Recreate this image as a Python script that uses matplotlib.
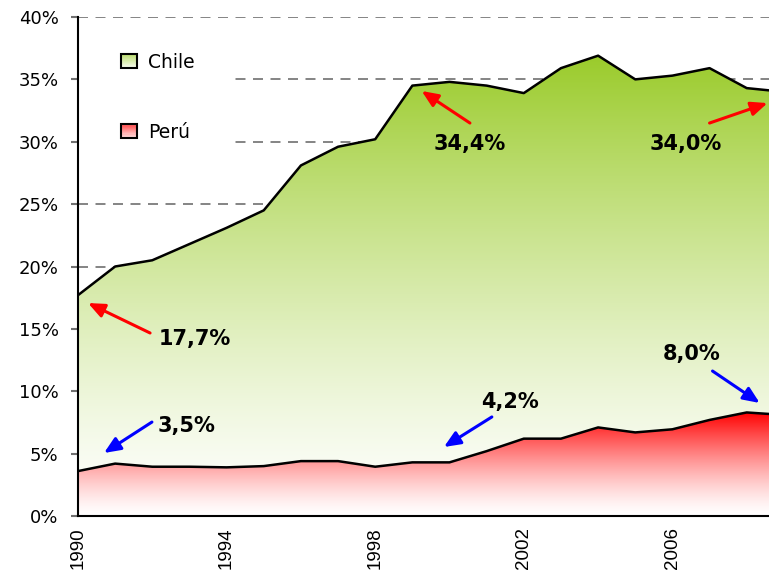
import numpy as np
import matplotlib.pyplot as plt
from matplotlib.patches import Rectangle, Patch

# share of exports (%)
years = list(range(1990, 2010))
chile = [17.7, 20.0, 20.5, 21.8, 23.1, 24.5, 28.1, 29.6, 30.2, 34.5,
         34.8, 34.5, 33.9, 35.9, 36.9, 35.0, 35.3, 35.9, 34.3, 34.0]
peru = [3.6, 4.2, 3.95, 3.95, 3.9, 4.0, 4.4, 4.4, 3.95, 4.3,
        4.3, 5.2, 6.2, 6.2, 7.1, 6.7, 6.95, 7.7, 8.3, 8.1]

xticks = [1990, 1994, 1998, 2002, 2006]
yticks = [0, 5, 10, 15, 20, 25, 30, 35, 40]

GREEN = np.array([154, 203, 42]) / 255
RED = np.array([255, 0, 0]) / 255


def blend(top, frac):
    frac = np.clip(frac, 0, 1)[..., None]
    return (1 - frac) * np.ones(3) + frac * top


def gradient_area(ax, x, y, top, ymax, gamma, z):
    poly = ax.fill_between(x, 0, y, facecolor='none', edgecolor='none')
    yy = np.linspace(0, ymax, 300)
    img = blend(top, (yy / ymax) ** gamma)[:, None, :]
    im = ax.imshow(img, origin='lower', aspect='auto', zorder=z,
                   extent=[x[0], x[-1], 0, ymax], interpolation='bilinear')
    im.set_clip_path(poly.get_paths()[0], ax.transData)
    ax.plot(x, y, color='black', lw=1.8, zorder=z + 0.5)


class GradHandler:
    def __init__(self, top):
        self.top = top

    def legend_artist(self, legend, orig_handle, fontsize, handlebox):
        x0, y0 = handlebox.xdescent, handlebox.ydescent
        w, h = handlebox.width, handlebox.height
        n = 12
        for i in range(n):
            c = blend(self.top, np.array(0.1 + 0.6 * (i + 0.5) / n))
            handlebox.add_artist(Rectangle((x0, y0 + h * i / n), w, h / n + 0.2,
                                           facecolor=c, edgecolor='none',
                                           transform=handlebox.get_transform()))
        border = Rectangle((x0, y0), w, h, facecolor='none', edgecolor='black',
                           lw=1.5, transform=handlebox.get_transform())
        handlebox.add_artist(border)
        return border


fig = plt.figure(figsize=(7.69, 5.71), dpi=100)
ax = fig.add_axes([78 / 769, 55 / 571, 691 / 769, 499 / 571])

gradient_area(ax, years, chile, GREEN, 37.0, 1.3, 1)
gradient_area(ax, years, peru, RED, 8.3, 1.4, 3)

ax.set_xlim(1990, 2008.6)
ax.set_ylim(0, 40)

ax.set_axisbelow(True)
ax.yaxis.grid(True, color='#707070', lw=1.2, linestyle=(0, (6, 4.5)))
ax.add_patch(Rectangle((0, 0.69), 0.227, 0.285, transform=ax.transAxes,
                       facecolor='white', edgecolor='none', zorder=0.8))

ax.set_yticks(yticks)
ax.set_yticklabels([f'{v}%' for v in yticks], fontsize=13)
ax.set_xticks(xticks)
ax.set_xticklabels([str(v) for v in xticks], rotation=90, fontsize=13.5,
                   va='top', family='Liberation Sans')
ax.tick_params(axis='y', length=5, width=1.5, color='#707070', pad=9)
ax.tick_params(axis='x', length=0, pad=8)
for s in ['top', 'right']:
    ax.spines[s].set_visible(False)
for s in ['left', 'bottom']:
    ax.spines[s].set_linewidth(1.5)
    ax.spines[s].set_zorder(6)

h_chile = Patch(label='Chile')
h_peru = Patch(label='Perú')
ax.legend(handles=[h_chile, h_peru], loc='upper left', bbox_to_anchor=(0.038, 0.962),
          frameon=False, fontsize=13.5, handlelength=0.85, handleheight=0.75,
          handletextpad=0.6, labelspacing=2.75,
          handler_map={h_chile: GradHandler(GREEN), h_peru: GradHandler(RED)})

# labels with arrows
notes = [
    ('17,7%', (1993.15, 14.2), (1991.94, 14.67), (1990.27, 17.07), 'red'),
    ('3,5%', (1992.93, 7.25), (1991.99, 7.53), (1990.70, 5.05), 'blue'),
    ('4,2%', (2001.62, 9.1), (2001.14, 7.94), (1999.85, 5.53), 'blue'),
    ('34,4%', (2000.55, 29.85), (2000.55, 31.5), (1999.25, 34.07), 'red'),
    ('34,0%', (2006.36, 29.85), (2007.0, 31.5), (2008.56, 33.1), 'red'),
    ('8,0%', (2006.52, 13.0), (2007.08, 11.62), (2008.35, 9.06), 'blue'),
]
for txt, pos, start, end, col in notes:
    ax.text(pos[0], pos[1], txt, fontsize=15, fontweight='bold',
            ha='center', va='center', zorder=8)
    ax.annotate('', xy=end, xytext=start, zorder=8,
                arrowprops=dict(arrowstyle='-|>,head_length=0.7,head_width=0.3',
                                color=col, lw=2.2, shrinkA=0, shrinkB=0,
                                mutation_scale=14))

fig.savefig('out.png', dpi=100)
